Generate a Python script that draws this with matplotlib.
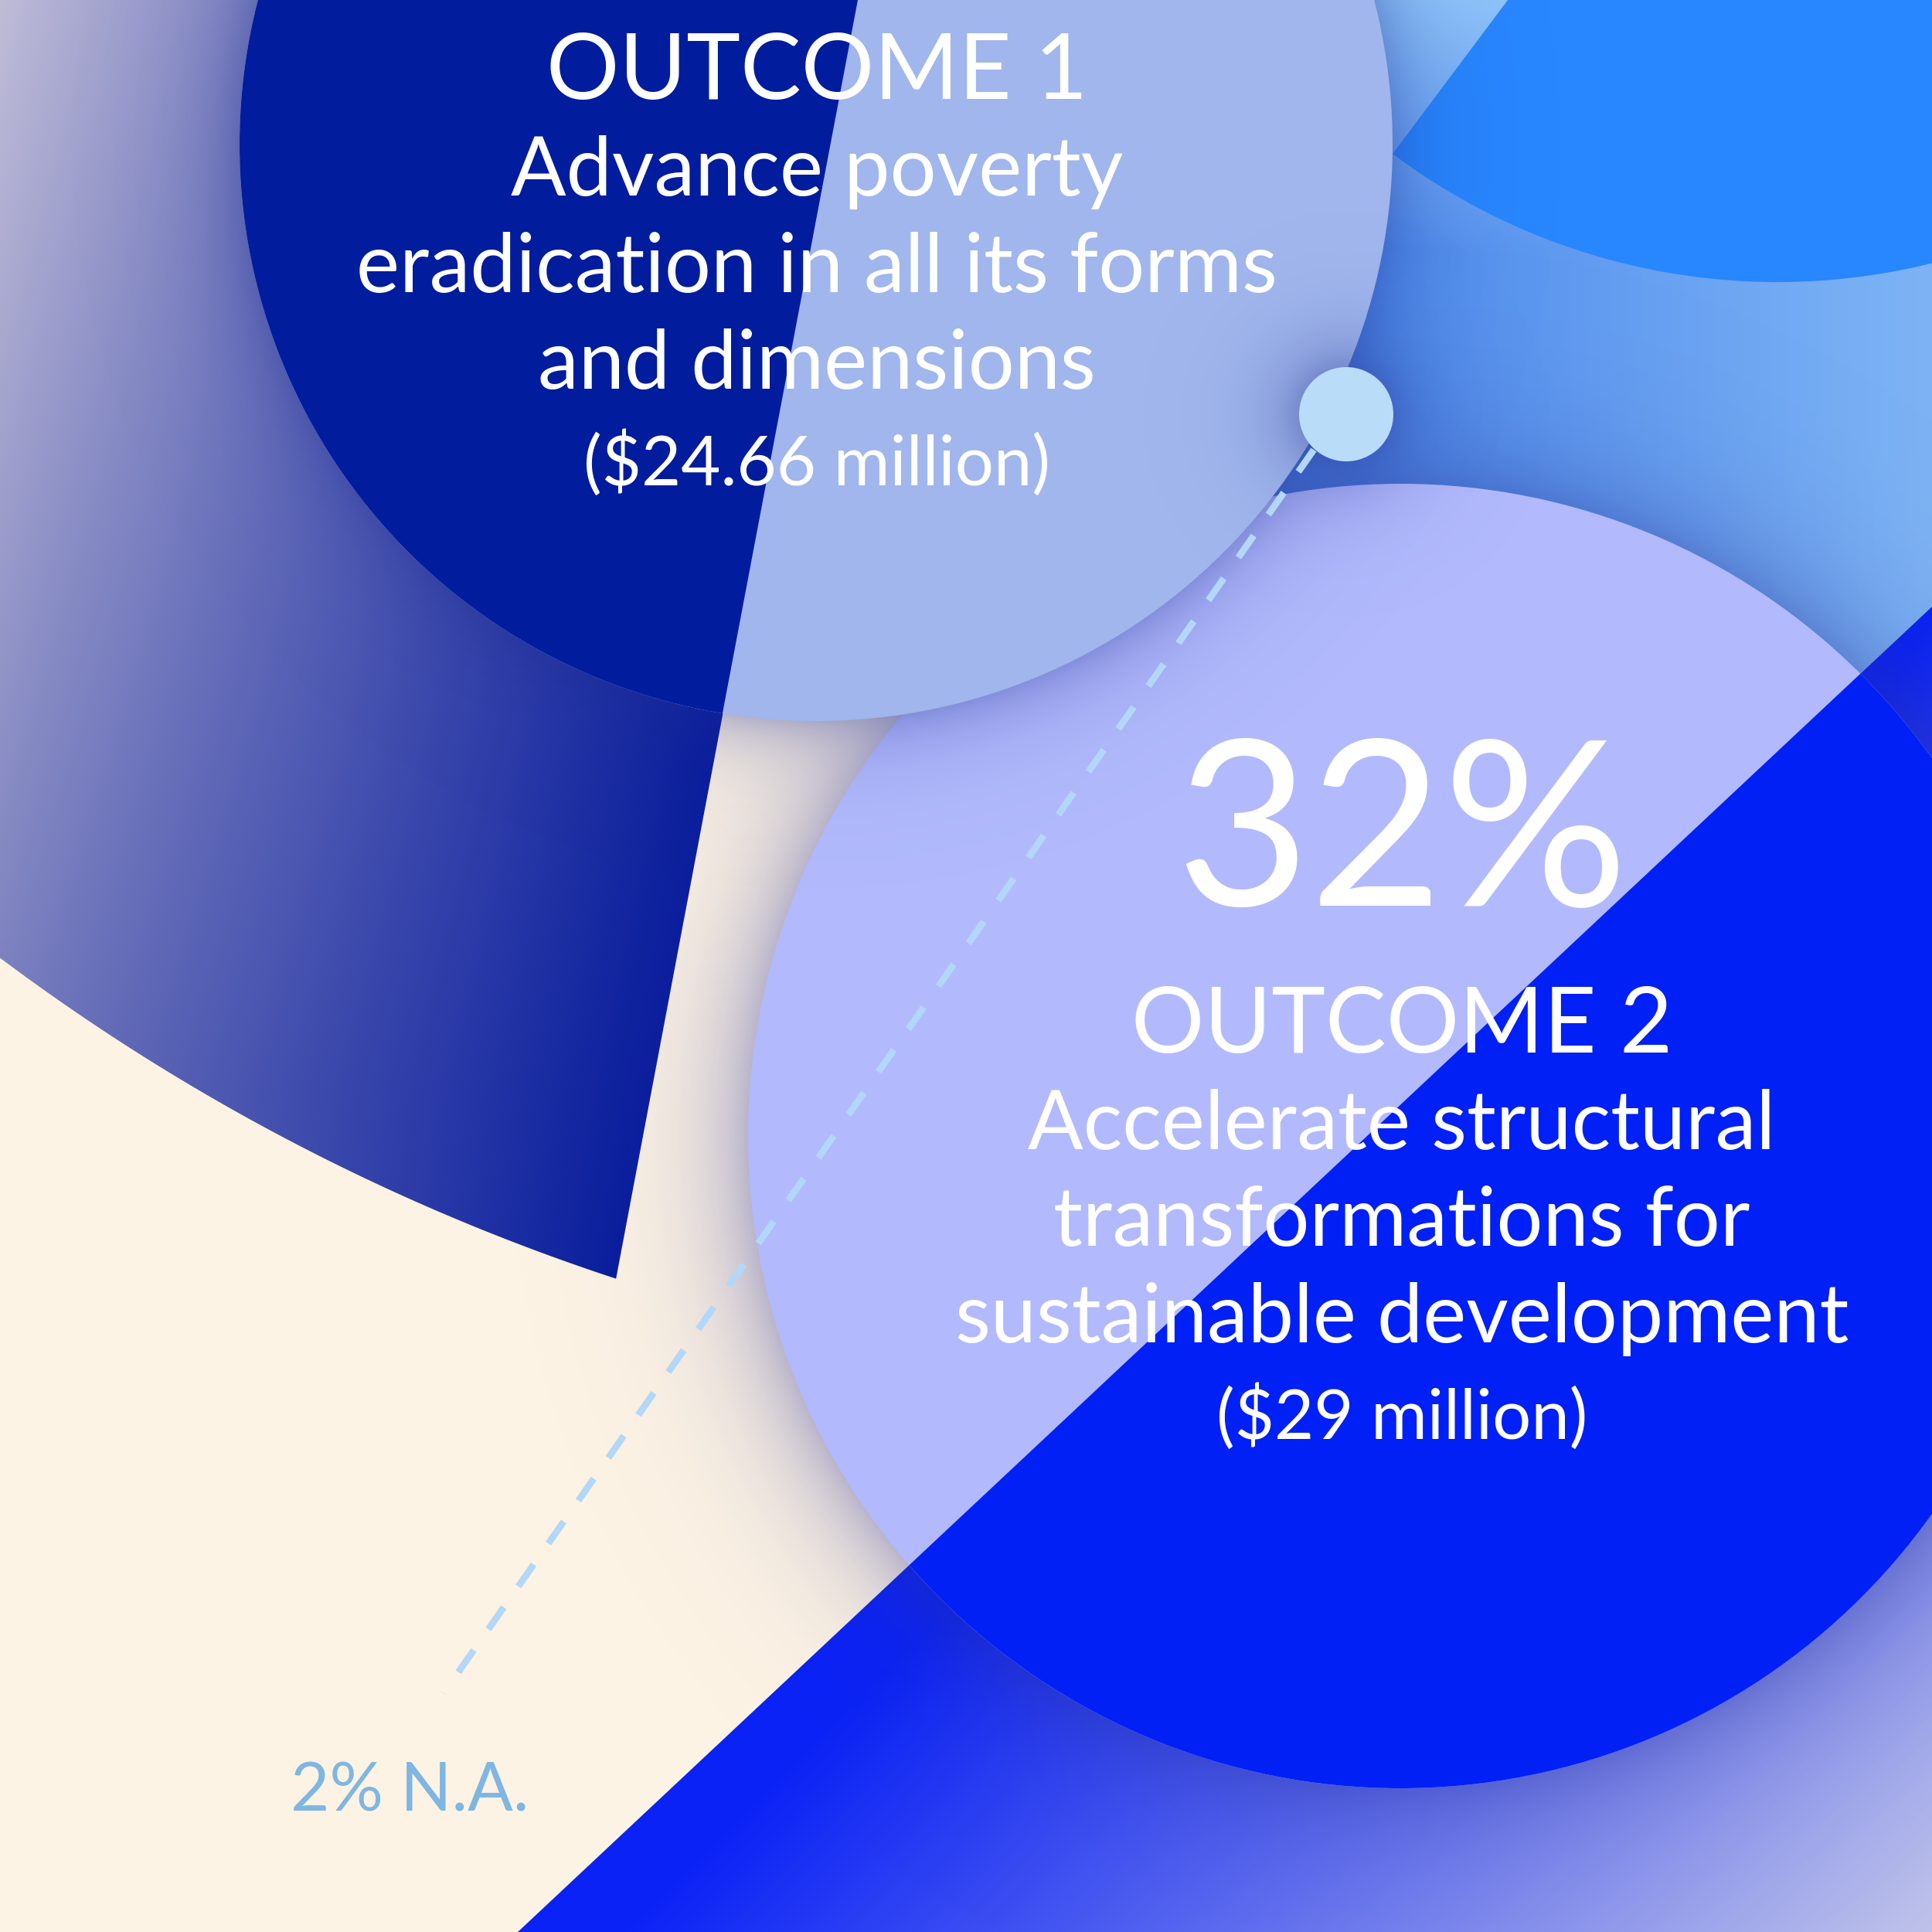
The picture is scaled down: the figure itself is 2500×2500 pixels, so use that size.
import numpy as np
import matplotlib.pyplot as plt
from matplotlib.patches import Circle, Polygon
from matplotlib.colors import to_rgb

plt.rcParams['font.family'] = ['Lato', 'DejaVu Sans']
plt.rcParams['lines.scale_dashes'] = False

# chart content
outcome_titles = ["OUTCOME 1", "OUTCOME 2"]
outcome_lines = [["Advance poverty", "eradication in all its forms", "and dimensions"],
                 ["Accelerate structural", "transformations for", "sustainable development"]]
outcome_amounts = [24.66, 29]      # $ million
outcome_share = [None, 32]         # % shown on the chart
na_share = 2                       # % N.A.

W = 2500
fig = plt.figure(figsize=(10, 10), dpi=250)
fig.patch.set_facecolor('#fdf3e4')
ax = fig.add_axes([0, 0, 1, 1])
ax.set_xlim(0, W)
ax.set_ylim(W, 0)
ax.axis('off')
ax.set_facecolor('#fdf3e4')

N = 500
g = (np.arange(N) + 0.5) * W / N
X, Y = np.meshgrid(g, g)


def mix(c1, c2, t):
    c1 = np.asarray(to_rgb(c1) if isinstance(c1, str) else c1)
    c2 = np.asarray(to_rgb(c2) if isinstance(c2, str) else c2)
    t = np.clip(t, 0, 1)[..., None]
    return c1 * (1 - t) + c2 * t


def paint(rgb, z, clip=None, alpha=None):
    img = rgb if alpha is None else np.dstack([rgb, alpha])
    im = ax.imshow(img, extent=(0, W, W, 0), zorder=z, interpolation='bilinear')
    if clip is not None:
        im.set_clip_path(clip)
    return im


def poly(pts):
    return Polygon(pts, closed=True, transform=ax.transData)


def shadow(cx, cy, r, width, color, amax, z):
    d = np.hypot(X - cx, Y - cy) - r
    a = amax * np.exp(-np.clip(d, 0, None) / width)
    rgb = np.broadcast_to(np.array(to_rgb(color)), X.shape + (3,))
    paint(rgb, z, alpha=a)


# geometry
c1 = (1056, 187, 746)
c2 = (1812, 1470, 844)
c3 = (2300, -465, 830)
big = (1662, -979, 2772)
xline = lambda y: 1110 - 0.1897 * y              # dark wedge edge
yline = lambda x: 2500 - 0.9372 * (x - 670)       # bright wedge edge
tline = lambda y: 1951 - 0.749 * y                # top-right wedge edge

# right blue background
blue_reg = poly([(1700, -50), (2600, -50), (2600, yline(2600)), (1810, yline(1810)), (1400, 800)])
base = mix('#4f8cee', '#7eb4f5', (X - 1750) / 750)
paint(mix(base, '#8ec4fa', 1 - Y / 320), 1, blue_reg)

# top-right medium blue circle
top_clip = poly([(tline(-100), -100), (2600, -100), (2600, 900), (tline(900), 900)])
p = Circle(c3[:2], c3[2], fc='#2886fe', ec='none', zorder=2)
ax.add_patch(p)
p.set_clip_path(top_clip)

# dark wedge with gradient
th = np.linspace(np.arctan2(1655 - big[1], 797 - big[0]), np.arccos((-60 - big[0]) / big[2]), 200)
arc = np.column_stack([big[0] + big[2] * np.cos(th), big[1] + big[2] * np.sin(th)])
wedge = poly(np.vstack([[(-60, -60), (xline(-60), -60)], arc]))
left = mix('#c0bdd8', '#767cbd', Y / 1400)
t = X / xline(Y)
paint(mix(left, '#0a1e9e', t ** 0.9), 3, wedge)

# bright wedge bottom-right
bright = poly([(500, yline(500)), (2600, yline(2600)), (2600, 2600), (500, 2600)])
paint(mix('#0a22f6', '#bfc3ea', (X + Y - 3300) / 1700), 4, bright)

# circle 2
shadow(c2[0], c2[1], c2[2], 70, '#2a3296', 0.32, 5)
ax.add_patch(Circle(c2[:2], c2[2], fc='#b2bafd', ec='none', zorder=6))
p = Circle(c2[:2], c2[2], fc='#0020f5', ec='none', zorder=6.5)
ax.add_patch(p)
p.set_clip_path(poly([(500, yline(500)), (2600, yline(2600)), (2600, 2600), (500, 2600)]))

# circle 1
shadow(c1[0], c1[1], c1[2], 50, '#1a2a90', 0.3, 7)
ax.add_patch(Circle(c1[:2], c1[2], fc='#a0b6ec', ec='none', zorder=8))
p = Circle(c1[:2], c1[2], fc='#021c9e', ec='none', zorder=8.5)
ax.add_patch(p)
p.set_clip_path(poly([(-100, -100), (xline(-100), -100), (xline(1100), 1100), (-100, 1100)]))

# dot + dashed leader to N.A.
shadow(1742, 536, 61, 45, '#2a3a98', 0.35, 9)
ax.add_patch(Circle((1742, 536), 61, fc='#b9dcf9', ec='none', zorder=10))
ax.plot([1700, 574], [582, 2191], color='#b3d7f8', lw=2.5, dashes=(10, 9.5), zorder=10)

# texts
amount_txt = [f"(${a:g} million)" for a in outcome_amounts]
cx = [1057, 1814]
base_y = [128, 1362]
for i in range(2):
    ax.text(cx[i], base_y[i], outcome_titles[i], color='white', fontsize=34,
            ha='center', va='baseline', zorder=12)
    for j, ln in enumerate(outcome_lines[i]):
        ax.text(cx[i], base_y[i] + 125 * (j + 1), ln, color='white', fontsize=30.5,
                ha='center', va='baseline', zorder=12)
    ax.text(cx[i], base_y[i] + 125 * 4, amount_txt[i], color='white', fontsize=25.5,
            ha='center', va='baseline', zorder=12)
    if outcome_share[i] is not None:
        ax.text(cx[i], 1172, f"{outcome_share[i]}%", color='white', fontsize=86,
                ha='center', va='baseline', zorder=12)

ax.text(376, 2344, f"{na_share}% N.A.", color='#7fb6e2', fontsize=25,
        ha='left', va='baseline', zorder=12)

fig.savefig('out.png', dpi=250, facecolor=fig.get_facecolor())
